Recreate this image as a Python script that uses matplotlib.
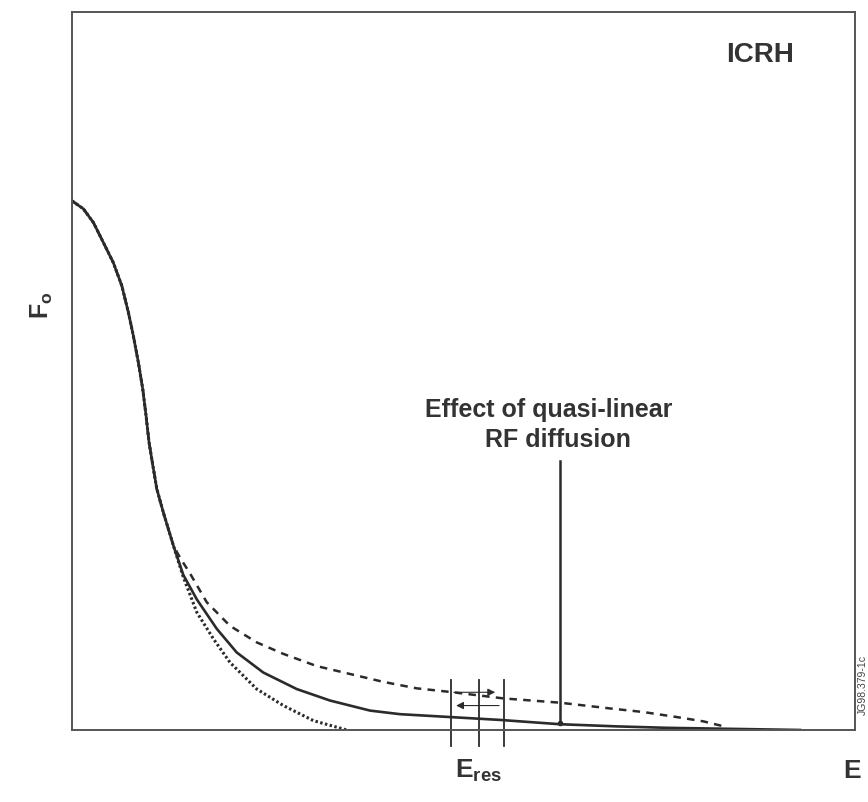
import matplotlib
matplotlib.use("Agg")
from matplotlib import pyplot as plt

plt.rcParams['font.family'] = ['Liberation Sans', 'DejaVu Sans']
plt.rcParams['mathtext.default'] = 'regular'

# distribution (E in arbitrary units 0..10, F0 normalised)
E_core = [0.0, 0.144, 0.272, 0.400, 0.527, 0.635, 0.719, 0.783, 0.847, 0.903,
          0.945, 0.983, 1.022, 1.082, 1.166, 1.294]
F_core = [0.737, 0.726, 0.707, 0.679, 0.651, 0.619, 0.582, 0.549, 0.512, 0.475,
          0.438, 0.401, 0.375, 0.336, 0.303, 0.257]

# with RF (solid)
E_rf = E_core + [1.421, 1.593, 1.848, 2.103, 2.443, 2.870, 3.295, 3.806, 4.189,
                 4.828, 5.466, 6.232, 6.956, 7.595, 9.298]
F_rf = F_core + [0.216, 0.182, 0.141, 0.108, 0.080, 0.057, 0.041, 0.027, 0.022,
                 0.018, 0.014, 0.008, 0.005, 0.003, 0.0]

# quasi-linear tail (dashed)
E_ql = E_core + [1.379, 1.507, 1.720, 2.018, 2.359, 2.699, 3.125, 3.550, 3.976,
                 4.402, 4.828, 5.508, 6.232, 6.871, 7.296, 7.723, 8.063, 8.362]
F_ql = F_core + [0.240, 0.218, 0.178, 0.145, 0.122, 0.106, 0.089, 0.078, 0.067,
                 0.058, 0.053, 0.044, 0.038, 0.030, 0.025, 0.018, 0.012, 0.004]

# Maxwellian (dotted)
E_max = E_core + [1.421, 1.593, 1.805, 2.018, 2.359, 2.699, 3.082, 3.508]
F_max = F_core + [0.213, 0.164, 0.127, 0.094, 0.057, 0.034, 0.013, 0.0]

E_res_lines = [4.84, 5.20, 5.52]
E_arrow = 6.232

ink = '#2b2b2b'
txt = '#333333'

fig = plt.figure(figsize=(8.68, 8.03), dpi=100)
ax = fig.add_axes([0.083, 0.0897, 0.902, 0.894])
ax.set_xlim(0, 10)
ax.set_ylim(0, 1)
ax.set_xticks([])
ax.set_yticks([])
for s in ax.spines.values():
    s.set_color('#555555')
    s.set_linewidth(1.4)

ax.plot(E_max, F_max, color=ink, lw=2.2, ls=(0, (0.8, 0.8)))
ax.plot(E_ql, F_ql, color=ink, lw=1.8, ls=(0, (3, 2.5)))
ax.plot(E_rf, F_rf, color=ink, lw=1.9)

# resonance band
for e in E_res_lines:
    ax.plot([e, e], [-0.022, 0.069], color=ink, lw=1.3, clip_on=False)
ax.annotate('', xy=(5.44, 0.0525), xytext=(E_res_lines[0], 0.0525),
            arrowprops=dict(arrowstyle='-|>', color=ink, lw=0.8, mutation_scale=11))
ax.annotate('', xy=(4.87, 0.034), xytext=(5.49, 0.034),
            arrowprops=dict(arrowstyle='-|>', color=ink, lw=0.8, mutation_scale=11))

# pointer to the tail
ax.plot([E_arrow, E_arrow], [0.374, 0.008], color=ink, lw=1.8)
ax.plot([E_arrow], [0.01], marker='o', ms=3, color=ink)
ax.text(6.09, 0.447, 'Effect of quasi-linear', ha='center', va='center',
        fontsize=18, fontweight='bold', color=txt)
ax.text(6.20, 0.405, 'RF diffusion', ha='center', va='center',
        fontsize=18, fontweight='bold', color=txt)

ax.text(0.879, 0.941, 'ICRH', transform=ax.transAxes, ha='center', va='center',
        fontsize=20, fontweight='bold', color=txt)

fig.text(0.048, 0.62, '$F_o$', rotation=90, ha='center', va='center',
         fontsize=18, fontweight='bold', color=txt)
fig.text(0.551, 0.040, '$E_{res}$', ha='center', va='center',
         fontsize=19, fontweight='bold', color=txt)
fig.text(0.982, 0.040, 'E', ha='center', va='center',
         fontsize=19, fontweight='bold', color=txt)
fig.text(0.994, 0.147, 'JG98.379-1c', rotation=90, ha='center', va='center',
         fontsize=7.5, color='#444444')

fig.savefig('out.png', dpi=100)
